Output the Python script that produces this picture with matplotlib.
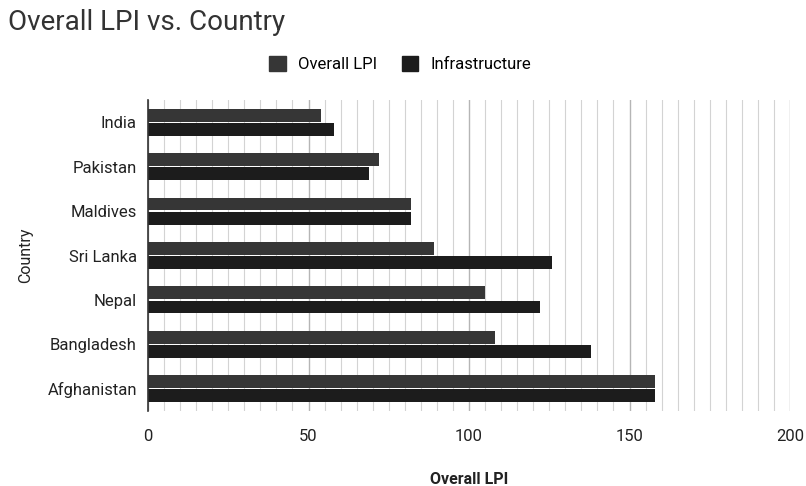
import matplotlib.pyplot as plt
import numpy as np
from matplotlib.patches import Patch

plt.rcParams['font.family'] = ['Roboto', 'DejaVu Sans']

countries = ['India', 'Pakistan', 'Maldives', 'Sri Lanka', 'Nepal', 'Bangladesh', 'Afghanistan']
overall_lpi = [54, 72, 82, 89, 105, 108, 158]
infrastructure = [58, 69, 82, 126, 122, 138, 158]

c_overall = '#363636'
c_infra = '#1c1c1c'

fig = plt.figure(figsize=(8.06, 4.86), dpi=100)
ax = fig.add_axes([148 / 806, 1 - 411 / 486, 642 / 806, 311 / 486])

y = np.arange(len(countries))
h = 0.29
gap = 0.015
ax.barh(y - h / 2 - gap, overall_lpi, height=h, color=c_overall, zorder=3)
ax.barh(y + h / 2 + gap, infrastructure, height=h, color=c_infra, zorder=3)

ax.set_ylim(len(countries) - 0.5, -0.5)
ax.set_xlim(0, 200)
ax.set_yticks(y)
ax.set_yticklabels(countries, fontsize=12, color='#222222')
ax.set_xticks([0, 50, 100, 150, 200])
ax.set_xticks(np.arange(0, 201, 5), minor=True)
ax.tick_params(axis='x', labelsize=12, colors='#222222', length=0, which='both', pad=13)
ax.tick_params(axis='y', length=0, pad=8)

ax.grid(axis='x', which='major', color='#b5b5b5', linewidth=1.0, zorder=0)
ax.grid(axis='x', which='minor', color='#d3d3d3', linewidth=0.8, zorder=0)
for s in ['top', 'right', 'bottom']:
    ax.spines[s].set_visible(False)
ax.spines['left'].set_color('#333333')
ax.spines['left'].set_linewidth(1.2)
ax.spines['left'].set_zorder(4)

ax.set_xlabel('Overall LPI', fontsize=11.5, fontweight='bold', color='#222222', labelpad=20)
ax.set_ylabel('Country', fontsize=11.5, color='#222222', labelpad=10)

fig.text(8 / 806, 1 - 22 / 486, 'Overall LPI vs. Country', fontsize=20, color='#333333',
         va='center', ha='left')

handles = [Patch(color=c_overall, label='Overall LPI'), Patch(color=c_infra, label='Infrastructure')]
fig.legend(handles=handles, loc='center', bbox_to_anchor=(400 / 806, 1 - 64 / 486), ncol=2,
           frameon=False, fontsize=12, handlelength=1.0, handleheight=1.0,
           handletextpad=0.7, columnspacing=1.5)

fig.savefig('out.png', dpi=100, facecolor='white')
